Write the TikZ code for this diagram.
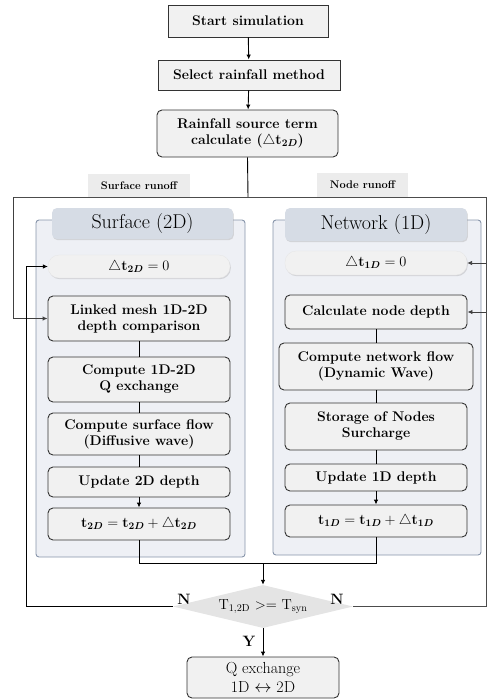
\documentclass[tikz,border=0pt]{standalone}
\usepackage{amsmath,amssymb}
\usetikzlibrary{shapes.geometric,arrows.meta,shadows}
\definecolor{boxfill}{HTML}{F1F1F1}
\definecolor{boxline}{HTML}{333333}
\definecolor{panelfill}{HTML}{EEF0F5}
\definecolor{panelline}{HTML}{8795AA}
\definecolor{headfill}{HTML}{D6DCE5}
\definecolor{labfill}{HTML}{ECECEC}
\definecolor{decfill}{HTML}{E4E4E4}
\begin{document}
\begin{tikzpicture}[x=1pt,y=-1pt,
  every node/.style={inner sep=0pt, align=center},
  boxtext/.style={font=\fontsize{14}{16}\selectfont\bfseries},
  sqbox/.style={draw=boxline, line width=0.9pt, fill=boxfill, boxtext},
  rbox/.style={draw=boxline, line width=0.9pt, fill=boxfill, rounded corners=5pt, boxtext},
  pill/.style={fill=boxfill, draw=gray!20, line width=0.3pt, rounded corners=11pt, boxtext,
     drop shadow={shadow xshift=0.8pt, shadow yshift=-1.2pt, opacity=0.25}},
  panel/.style={draw=panelline, line width=0.9pt, fill=panelfill, rounded corners=3pt},
  head/.style={fill=headfill, rounded corners=5pt, font=\fontsize{20}{22}\selectfont,
     drop shadow={shadow xshift=0.8pt, shadow yshift=-1.2pt, opacity=0.25}},
  lab/.style={fill=labfill, font=\fontsize{11}{12}\selectfont\bfseries},
  conn/.style={line width=0.9pt, black},
  arr/.style={conn, -{Latex[length=5pt,width=4.5pt]}},
  garr/.style={line width=0.9pt, black!75, -{Latex[length=5pt,width=4.5pt]}},
  yn/.style={font=\fontsize{15}{16}\selectfont\bfseries}
]
\useasboundingbox (0,0) rectangle (488,699);

% top boxes
\node[sqbox, minimum width=160pt, minimum height=32pt] (start) at (248,21) {Start simulation};
\node[sqbox, minimum width=182pt, minimum height=30pt] (select) at (249,75) {Select rainfall method};
\node[rbox, minimum width=181pt, minimum height=47pt] (rain) at (247.5,133.5) {Rainfall source term\\calculate ($\triangle\mathbf{t}_{\boldsymbol{2D}}$)};
\draw[arr] (start) -- (select);
\draw[arr] (select) -- (rain);

\node[lab, minimum width=102pt, minimum height=23pt] (lsurf) at (139,185.5) {Surface runoff};
\node[lab, minimum width=91pt, minimum height=24pt] (lnode) at (362.5,185) {Node runoff};

% panels
\node[panel, minimum width=209pt, minimum height=337pt] (panelL) at (140.5,388.5) {};
\node[panel, minimum width=208pt, minimum height=335pt] (panelR) at (377,387.5) {};
\node[head, minimum width=181pt, minimum height=31pt] (headL) at (142.5,223.5) {Surface (2D)};
\node[head, minimum width=182pt, minimum height=33pt] (headR) at (376,224.5) {Network (1D)};

% left column
\node[pill, minimum width=182pt, minimum height=23pt] (pillL) at (139,266.5) {$\triangle\mathbf{t}_{\boldsymbol{2D}} = 0$};
\node[rbox, minimum width=182pt, minimum height=45pt] (linked) at (139,318.5) {Linked mesh 1D-2D\\depth comparison};
\node[rbox, minimum width=182pt, minimum height=45pt] (qex) at (139,379.5) {Compute 1D-2D\\Q exchange};
\node[rbox, minimum width=182pt, minimum height=42pt] (sflow) at (139,434) {Compute surface flow\\(Diffusive wave)};
\node[rbox, minimum width=182pt, minimum height=30pt] (upd2) at (139,482) {Update 2D depth};
\node[rbox, minimum width=182pt, minimum height=32pt] (t2) at (139,524) {$\mathbf{t}_{\boldsymbol{2D}} = \mathbf{t}_{\boldsymbol{2D}} + \triangle\mathbf{t}_{\boldsymbol{2D}}$};

% right column
\node[pill, minimum width=182pt, minimum height=24pt] (pillR) at (376,263) {$\triangle\mathbf{t}_{\boldsymbol{1D}} = 0$};
\node[rbox, minimum width=182pt, minimum height=34pt] (calc) at (376,312) {Calculate node depth};
\node[rbox, minimum width=194pt, minimum height=47pt] (netflow) at (376,366.5) {Compute network flow\\(Dynamic Wave)};
\node[rbox, minimum width=182pt, minimum height=47pt] (storage) at (376,426.5) {Storage of Nodes\\Surcharge};
\node[rbox, minimum width=182pt, minimum height=27pt] (upd1) at (376,477.5) {Update 1D depth};
\node[rbox, minimum width=182pt, minimum height=32pt] (t1) at (376,521) {$\mathbf{t}_{\boldsymbol{1D}} = \mathbf{t}_{\boldsymbol{1D}} + \triangle\mathbf{t}_{\boldsymbol{1D}}$};

% decision and output
\node[diamond, fill=decfill, minimum width=180pt, minimum height=43pt, aspect=4,
      font=\fontsize{14.5}{15}\selectfont] (dec) at (263,606.5) {T\textsubscript{1,2D} >= T\textsubscript{syn}};
\node[rbox, minimum width=152pt, minimum height=41pt, font=\fontsize{16}{19.5}\selectfont] (qout) at (263,677.5) {Q exchange\\1D $\leftrightarrow$ 2D};

% column connectors
\draw[conn] (linked) -- (qex);
\draw[conn] (qex) -- (sflow);
\draw[conn] (sflow) -- (upd2);
\draw[arr] (upd2) -- (t2);
\draw[conn] (calc) -- (netflow);
\draw[conn] (netflow) -- (storage);
\draw[conn] (storage) -- (upd1);
\draw[arr] (upd1) -- (t1);

% split
\coordinate (jtop) at (248,197);
\coordinate (tl) at (13,197);
\coordinate (tr) at (486,197);
\draw[conn] (rain.south) -- (jtop);
\draw[line width=1pt, black!70] (tl) -- (tr);
\draw[garr] (tl) |- (linked.west);
\draw[line width=1pt, black!70] (tr) |- (dec.east);
\draw[garr] (tr |- pillR.east) -- (pillR.east);
\draw[garr] (tr |- calc.east) -- (calc.east);

% merge
\coordinate (mL) at (139,563);
\coordinate (mR) at (376,563);
\coordinate (mC) at (263,563);
\draw[conn] (t2.south) -- (mL) -- (mR) -- (t1.south);
\draw[arr] (mC) -- (dec.north);

% loops
\coordinate (lx) at (26,606.5);
\draw[arr] (dec.west) -- (lx) |- (pillL.west);
\draw[arr] (dec.south) -- (qout.north);

\node[yn] (nl) at (184,599) {N};
\node[yn] (nr) at (337,599) {N};
\node[yn] (yy) at (249,641) {Y};
\end{tikzpicture}
\end{document}
